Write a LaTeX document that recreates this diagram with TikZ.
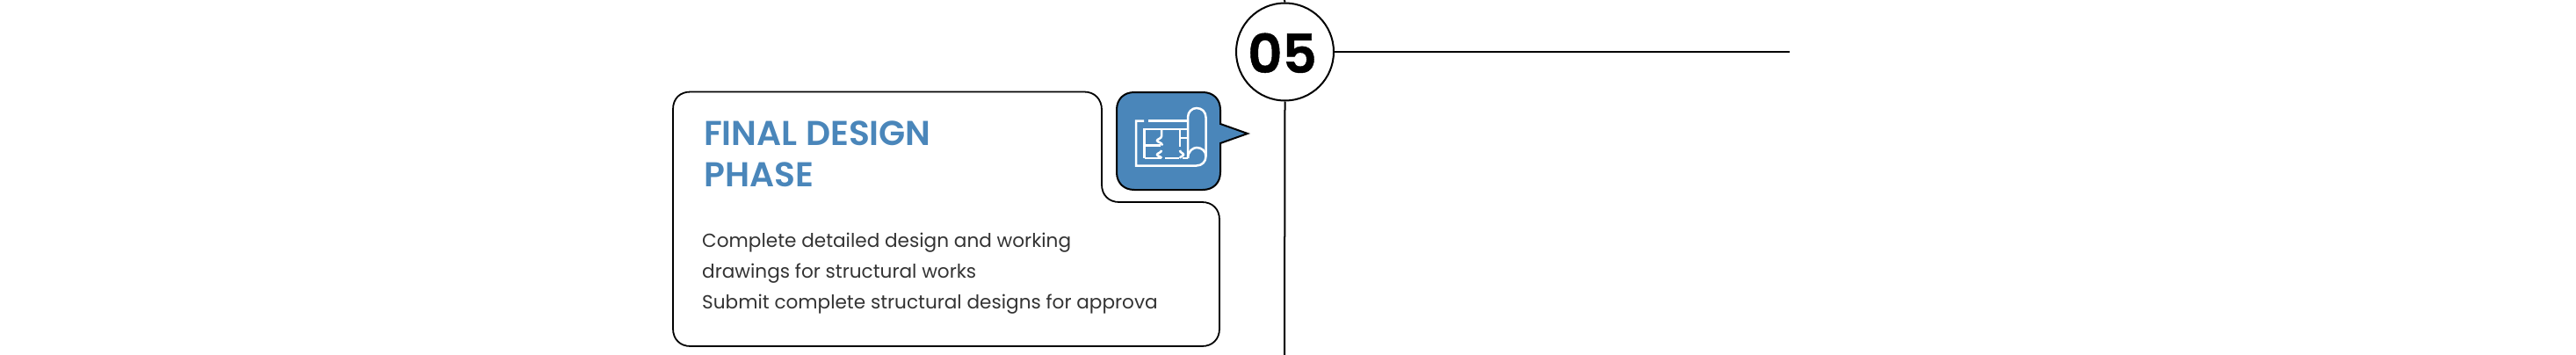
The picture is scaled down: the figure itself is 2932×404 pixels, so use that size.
\documentclass[tikz,border=0pt]{standalone}
\usepackage{fontspec}
\setmainfont{Poppins}
\newfontfamily\semib{Poppins SemiBold}
\newfontfamily\semibx[FakeBold=0.7]{Poppins SemiBold}
\definecolor{stepblue}{HTML}{4A86BA}
\definecolor{bodyink}{HTML}{333333}
\tikzset{
  ln/.style={draw=black,line width=2pt},
  iconln/.style={draw=white,line width=2.5pt,line join=miter},
  titletxt/.style={anchor=base west,inner sep=0pt,text=stepblue,font=\semib\fontsize{39.2}{39.2}\selectfont},
  bodytxt/.style={anchor=base west,inner sep=0pt,text=bodyink,font=\fontsize{21.6}{21.6}\selectfont},
}
\begin{document}
\begin{tikzpicture}[x=1pt,y=-1pt]
\useasboundingbox (0,0) rectangle (2932,404);
% timeline
\coordinate (top) at (1462,0);
\coordinate (bot) at (1462,404);
\coordinate (hend) at (2037,59);
\node[circle,ln,fill=white,minimum size=111pt,inner sep=0pt] (num) at (1462.5,59) {};
\draw[ln] (top) -- (num.north);
\draw[ln] (num.south) -- (bot);
\draw[ln] (num.east) -- (hend);
\node[anchor=base,inner sep=0pt,font=\semibx\fontsize{61}{61}\selectfont] (numtxt) at (1459.5,83) {05};
% card
\draw[ln,line width=1.8pt] (786,104.5) -- (1234,104.5) .. controls (1246,104.5) and (1254,113) .. (1254,125)
  -- (1254,210) .. controls (1254,222) and (1262,230) .. (1274,230)
  -- (1368,230) .. controls (1380,230) and (1388,238) .. (1388,250)
  -- (1388,374) .. controls (1388,386) and (1380,394) .. (1368,394)
  -- (786,394) .. controls (774,394) and (766,386) .. (766,374)
  -- (766,124.5) .. controls (766,112) and (774,104.5) .. (786,104.5) -- cycle;
\node[titletxt] (t1) at (801,165) {FINAL DESIGN};
\node[titletxt] (t2) at (801,212) {PHASE};
\node[bodytxt] (b1) at (799,281.5) {Complete detailed design and working};
\node[bodytxt] (b2) at (799,316.5) {drawings for structural works};
\node[bodytxt] (b3) at (799,351.5) {Submit complete structural designs for approva};
% blue callout
\draw[ln,fill=stepblue,line join=miter] (1291,105) -- (1369,105) .. controls (1381,105) and (1389,113) .. (1389,125)
  -- (1389,141) -- (1420,152) -- (1389,163) -- (1389,196)
  .. controls (1389,208) and (1381,216) .. (1369,216) -- (1291,216)
  .. controls (1279,216) and (1271,208) .. (1271,196) -- (1271,125)
  .. controls (1271,113) and (1279,105) .. (1291,105) -- cycle;
% icon
\draw[iconln] (1302,137.5) -- (1293,137.5) -- (1293,188.5) -- (1362,188.5)
  .. controls (1368,188.5) and (1372.5,184) .. (1372.5,178) -- (1372.5,133.5)
  .. controls (1372.5,127.5) and (1368,123) .. (1362,123)
  .. controls (1356.5,123) and (1352,127.5) .. (1352,133.5) -- (1352,180);
\draw[iconln] (1307,137.5) -- (1352,137.5);
\draw[iconln] (1352,180) .. controls (1352,172) and (1358,168) .. (1362,168)
  .. controls (1368,168) and (1372.5,172) .. (1372.5,178);
\draw[iconln] (1302.5,180) -- (1302.5,147) -- (1352,147);
\draw[iconln] (1302.5,180) -- (1322,180) (1326,180) -- (1342,180) (1346,180) -- (1352,180);
\draw[iconln] (1302.5,165.5) -- (1321,165.5);
\draw[iconln] (1322,147) -- (1322,155) .. controls (1322,158) and (1317,158) .. (1317,160) .. controls (1317,162) and (1323,162) .. (1323,165.5);
\draw[iconln] (1322,171) .. controls (1322,174) and (1317,174) .. (1317,176) .. controls (1317,178) and (1322,178) .. (1322,180);
\draw[iconln] (1343,147) -- (1343,167) (1343,157) -- (1352,157);
\draw[iconln] (1343,171) .. controls (1343,174) and (1347,174) .. (1347,176) .. controls (1347,178) and (1343,178) .. (1343,180);
\end{tikzpicture}
\end{document}
